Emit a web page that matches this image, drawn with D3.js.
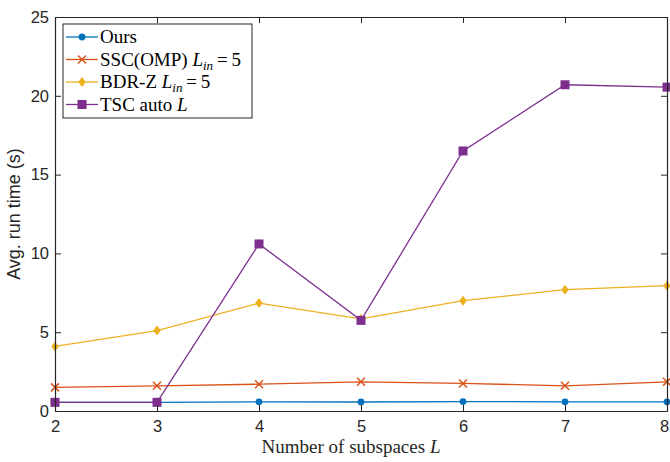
<!DOCTYPE html>
<html>
<head>
<meta charset="utf-8">
<script src="https://cdn.jsdelivr.net/npm/d3@7"></script>
<style>
  body { margin: 0; background: #fff; }
  svg { display: block; }
</style>
</head>
<body>
<svg id="chart" width="670" height="462"></svg>
<script>
// data
var subspaces = [2, 3, 4, 5, 6, 7, 8];
var ours     = [0.55, 0.55, 0.58, 0.57, 0.6, 0.58, 0.58];
var sscOmp   = [1.5, 1.6, 1.7, 1.85, 1.75, 1.6, 1.85];
var bdrZ     = [4.1, 5.1, 6.85, 5.85, 7.0, 7.7, 7.95];
var tscAuto  = [0.55, 0.55, 10.6, 5.75, 16.5, 20.7, 20.55];
var yTicks   = [0, 5, 10, 15, 20, 25];

var series = [
  {name: "Ours", values: ours, color: "#0072BD", marker: "circle"},
  {name: "SSC(OMP)", sub: true, values: sscOmp, color: "#D95319", marker: "cross"},
  {name: "BDR-Z", sub: true, values: bdrZ, color: "#EDB120", marker: "diamond"},
  {name: "TSC auto", autoL: true, values: tscAuto, color: "#7E2F8E", marker: "square"}
];

var svg = d3.select("#chart");
// plot box (window.top is reserved, so use other names)
var pLeft = 55, pRight = 667, pTop = 17, pBottom = 411;

var x = d3.scaleLinear().domain([2, 8]).range([pLeft, pRight]);
var y = d3.scaleLinear().domain([0, 25]).range([pBottom, pTop]);

var sansFont = "'Liberation Sans', Arial, sans-serif";
var serifFont = "'Liberation Serif', 'Times New Roman', serif";

// lines
var line = d3.line()
  .x(function(d, i){ return x(subspaces[i]); })
  .y(function(d){ return y(d); });

series.forEach(function(s){
  svg.append("path")
    .attr("d", line(s.values))
    .attr("fill", "none")
    .attr("stroke", s.color)
    .attr("stroke-width", 1.3);
});

function drawMarker(g, type, cx, cy, color){
  if (type == "circle"){
    g.append("circle").attr("cx", cx).attr("cy", cy).attr("r", 3.4).attr("fill", color);
  } else if (type == "cross"){
    var r = 4;
    g.append("path")
      .attr("d", "M"+(cx-r)+","+(cy-r)+"L"+(cx+r)+","+(cy+r)+"M"+(cx-r)+","+(cy+r)+"L"+(cx+r)+","+(cy-r))
      .attr("stroke", color).attr("stroke-width", 1.5).attr("fill", "none");
  } else if (type == "diamond"){
    var r2 = 5;
    g.append("path")
      .attr("d", "M"+cx+","+(cy-r2)+"L"+(cx+r2*0.75)+","+cy+"L"+cx+","+(cy+r2)+"L"+(cx-r2*0.75)+","+cy+"Z")
      .attr("fill", color);
  } else if (type == "square"){
    g.append("rect").attr("x", cx-4.5).attr("y", cy-4.5).attr("width", 9).attr("height", 9).attr("fill", color);
  }
}

series.forEach(function(s){
  var g = svg.append("g");
  s.values.forEach(function(v, i){
    drawMarker(g, s.marker, x(subspaces[i]), y(v), s.color);
  });
});

// axes (MATLAB box style, ticks inside)
var xAxis = svg.append("g").attr("transform", "translate(0,"+pBottom+")")
  .call(d3.axisBottom(x).tickValues(subspaces).tickFormat(d3.format("d")).tickSize(-6).tickPadding(9).tickSizeOuter(0));
var yAxis = svg.append("g").attr("transform", "translate("+pLeft+",0)")
  .call(d3.axisLeft(y).tickValues(yTicks).tickFormat(d3.format("d")).tickSize(-6).tickPadding(6).tickSizeOuter(0));
var xTop = svg.append("g").attr("transform", "translate(0,"+pTop+")")
  .call(d3.axisTop(x).tickValues(subspaces).tickSize(-6).tickFormat("").tickSizeOuter(0));
var yRight = svg.append("g").attr("transform", "translate("+pRight+",0)")
  .call(d3.axisRight(y).tickValues(yTicks).tickSize(-6).tickFormat("").tickSizeOuter(0));

[xAxis, yAxis, xTop, yRight].forEach(function(a){
  a.selectAll("path.domain").attr("stroke", "#262626").attr("stroke-width", 1.2);
  a.selectAll(".tick line").attr("stroke", "#262626").attr("stroke-width", 1);
  a.selectAll(".tick text").attr("fill", "#262626").style("font-family", sansFont).style("font-size", "16.5px");
});
// keep the last x label inside the window
xAxis.selectAll(".tick text").filter(function(d){ return d == 8; }).attr("dx", -3);

// axis labels
svg.append("text")
  .attr("x", (pLeft+pRight)/2 - 10).attr("y", 453)
  .attr("text-anchor", "middle")
  .style("font-family", serifFont).style("font-size", "19px").attr("fill", "#262626")
  .html("Number of subspaces <tspan font-style='italic'>L</tspan>");

svg.append("text")
  .attr("transform", "translate(20,"+((pTop+pBottom)/2)+") rotate(-90)")
  .attr("text-anchor", "middle")
  .style("font-family", sansFont).style("font-size", "18px").attr("fill", "#262626")
  .text("Avg. run time (s)");

// legend
var lg = svg.append("g").attr("transform", "translate(63,24)");
lg.append("rect").attr("x", 0).attr("y", 0).attr("width", 189).attr("height", 94)
  .attr("fill", "#fff").attr("stroke", "#262626").attr("stroke-width", 1);

series.forEach(function(s, i){
  var yy = 13 + i*22.5;
  lg.append("line").attr("x1", 3).attr("x2", 35).attr("y1", yy).attr("y2", yy)
    .attr("stroke", s.color).attr("stroke-width", 1.3);
  drawMarker(lg, s.marker, 19, yy, s.color);
  var t = lg.append("text").attr("x", 37).attr("y", yy+6)
    .style("font-family", serifFont).style("font-size", "19px").attr("fill", "#000");
  t.append("tspan").text(s.name);
  if (s.sub){
    t.append("tspan").attr("font-style", "italic").text(" L");
    t.append("tspan").attr("font-style", "italic").attr("font-size", "13px").attr("dy", 4).text("in");
    t.append("tspan").attr("dy", -4).text("\u2009=\u20095");
  }
  if (s.autoL){
    t.append("tspan").attr("font-style", "italic").text(" L");
  }
});
</script>
</body>
</html>
